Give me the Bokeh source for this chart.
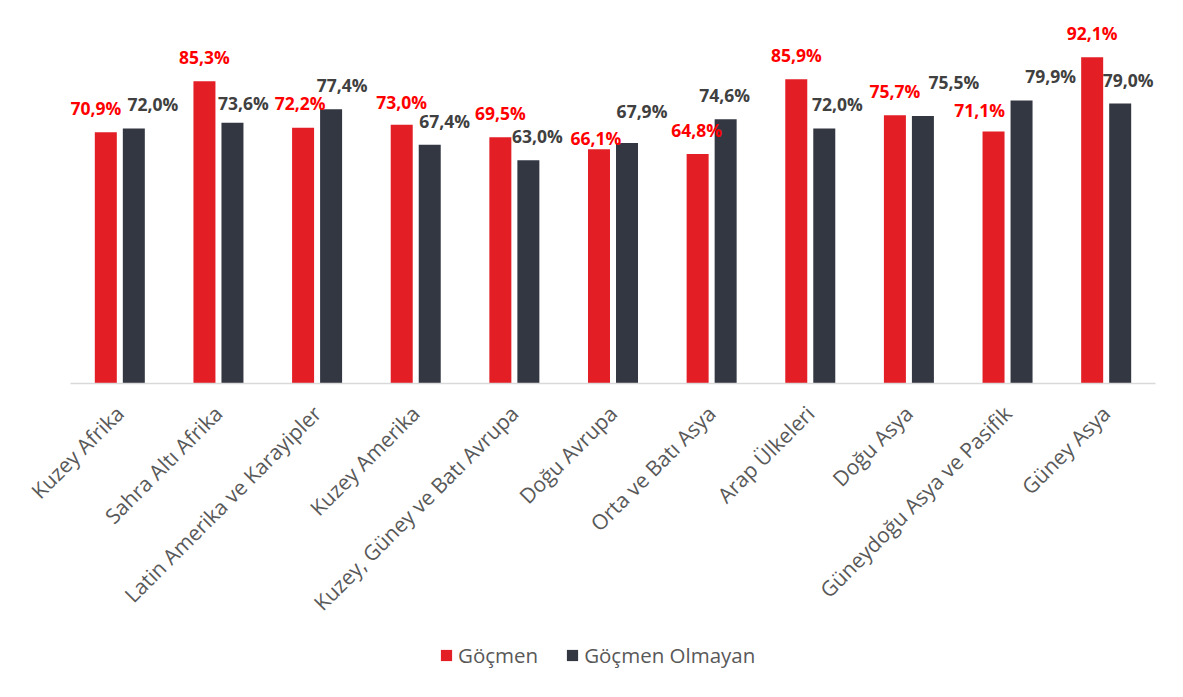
import math
from bokeh.plotting import figure
from bokeh.layouts import column
from bokeh.models import ColumnDataSource, Range1d, FactorRange, Legend, LegendItem
from bokeh.transform import dodge
from bokeh.embed import file_html
from bokeh.resources import INLINE
from bokeh.core.properties import value

regions = ["Kuzey Afrika", "Sahra Altı Afrika", "Latin Amerika ve Karayipler",
           "Kuzey Amerika", "Kuzey, Güney ve Batı Avrupa", "Doğu Avrupa",
           "Orta ve Batı Asya", "Arap Ülkeleri", "Doğu Asya",
           "Güneydoğu Asya ve Pasifik", "Güney Asya"]
gocmen = [70.9, 85.3, 72.2, 73.0, 69.5, 66.1, 64.8, 85.9, 75.7, 71.1, 92.1]
gocmen_olmayan = [72.0, 73.6, 77.4, 67.4, 63.0, 67.9, 74.6, 72.0, 75.5, 79.9, 79.0]
series_names = ["Göçmen", "Göçmen Olmayan"]

# data-label nudges in screen pixels (styling only)
red_dx = [-10, 0, -3, 0, 0, -3, -1, 0, 0, -14, 0]
red_dy = [24, 24, 25, 23, 24, 11, 24, 24, 24, 22, 24]
dark_dx = [19, 11, 11, 15, 9, 15, -1, 13, 31, 29, 8]
dark_dy = [24, 20, 24, 24, 24, 32, 24, 24, 34, 24, 24]


def fmt(v):
    return f"{v:.1f}%".replace(".", ",")


src = ColumnDataSource(dict(
    region=regions,
    g=gocmen,
    o=gocmen_olmayan,
    g_lbl=[fmt(v) for v in gocmen],
    o_lbl=[fmt(v) for v in gocmen_olmayan],
    g_dx=red_dx,
    g_dy=[-d for d in red_dy],
    o_dx=dark_dx,
    o_dy=[-d for d in dark_dy],
))

RED = "#E31E24"
DARK = "#333742"

p = figure(
    x_range=FactorRange(factors=regions),
    y_range=Range1d(0, 104.15),
    frame_width=1085, frame_height=369,
    min_border_left=70, min_border_right=23,
    min_border_top=14, min_border_bottom=0,
    y_axis_location=None,
    output_backend="svg", toolbar_location=None,
)
p.outline_line_color = None
p.xgrid.grid_line_color = None
p.ygrid.grid_line_color = None
p.background_fill_color = "white"
p.border_fill_color = "white"

p.vbar(x=dodge("region", -0.142, range=p.x_range), top="g", width=0.223,
       source=src, fill_color=RED, line_color=None)
p.vbar(x=dodge("region", 0.142, range=p.x_range), top="o", width=0.223,
       source=src, fill_color=DARK, line_color=None)

p.text(x=dodge("region", -0.142, range=p.x_range), y="g", text="g_lbl",
       x_offset="g_dx", y_offset="g_dy", source=src,
       text_font=value("Open Sans"), text_font_style="bold", text_font_size="17.5px",
       text_color="#FF0000", text_align="center", text_baseline="middle")
p.text(x=dodge("region", 0.142, range=p.x_range), y="o", text="o_lbl",
       x_offset="o_dx", y_offset="o_dy", source=src,
       text_font=value("Open Sans"), text_font_style="bold", text_font_size="17.5px",
       text_color="#404040", text_align="center", text_baseline="middle")

ax = p.xaxis[0]
ax.major_label_orientation = math.pi / 4
ax.axis_line_color = "#d9d9d9"
ax.axis_line_width = 1.5
ax.major_tick_line_color = None
ax.minor_tick_line_color = None
ax.major_label_text_font = "Open Sans"
ax.major_label_text_font_size = "21px"
ax.major_label_text_color = "#595959"
ax.major_label_standoff = 20

# legend strip, overlaid at the bottom of the chart; its bars lie outside
# its visible y-range, so only the legend shows
p2 = figure(
    width=1178, height=34,
    x_range=p.x_range, y_range=Range1d(1000, 1001),
    min_border=0, x_axis_location=None, y_axis_location=None,
    output_backend="svg", toolbar_location=None,
)
p2.outline_line_color = None
p2.xgrid.grid_line_color = None
p2.ygrid.grid_line_color = None
p2.background_fill_alpha = 0
p2.border_fill_alpha = 0
p2.styles = {"position": "absolute", "top": "638px", "left": "0px"}

l1 = p2.vbar(x="region", top="g", width=0.2, source=src, fill_color=RED, line_color=None)
l2 = p2.vbar(x="region", top="o", width=0.2, source=src, fill_color=DARK, line_color=None)

lg = Legend(items=[LegendItem(label=series_names[0], renderers=[l1]),
                   LegendItem(label=series_names[1], renderers=[l2])])
lg.location = (369, 3)
lg.orientation = "horizontal"
lg.glyph_width = 14
lg.glyph_height = 14
lg.label_standoff = 5
lg.spacing = 27
lg.padding = 0
lg.margin = 0
lg.border_line_color = None
lg.background_fill_alpha = 0
lg.label_text_font = "Open Sans"
lg.label_text_font_size = "20.5px"
lg.label_text_color = "#595959"
p2.add_layout(lg, "center")

layout = column(p, p2)
open("out.html", "w").write(file_html(layout, INLINE))
